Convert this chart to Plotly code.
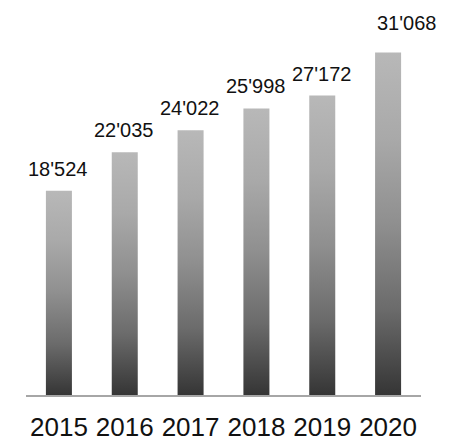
import plotly.graph_objects as go

years = ["2015", "2016", "2017", "2018", "2019", "2020"]
values = [18524, 22035, 24022, 25998, 27172, 31068]

BAR_W = 0.395
GRAD = [[0.0, "#353535"], [0.25, "#6b6b6b"], [0.5, "#8f8f8f"], [0.75, "#a9a9a9"], [1.0, "#b8b8b8"]]
FONT = "Liberation Sans, Arial, sans-serif"

fig = go.Figure()
for i, (yr, v) in enumerate(zip(years, values)):
    xs = [i - BAR_W / 2, i + BAR_W / 2, i + BAR_W / 2, i - BAR_W / 2, i - BAR_W / 2]
    ys = [0, 0, v, v, 0]
    fig.add_trace(go.Scatter(
        x=xs, y=ys, mode="lines", fill="toself", line=dict(width=0),
        fillgradient=dict(type="vertical", colorscale=GRAD),
        hoverinfo="skip", showlegend=False,
    ))

for i, v in enumerate(values):
    last = i == len(values) - 1
    fig.add_annotation(
        x=i, y=v, text=f"{v:,}".replace(",", "'"), showarrow=False,
        yanchor="middle", xanchor="center",
        xshift=18 if last else -1, yshift=30 if last else 22,
        font=dict(family=FONT, size=20, color="#111111"),
    )

fig.update_layout(
    width=450, height=444,
    margin=dict(l=26, r=29, t=10, b=49, autoexpand=False),
    paper_bgcolor="white", plot_bgcolor="white",
    xaxis=dict(
        range=[-0.5, len(years) - 0.5], tickmode="array",
        tickvals=list(range(len(years))), ticktext=years,
        showgrid=False, zeroline=False, showline=True,
        linecolor="#a6a6a6", linewidth=2, ticks="",
        tickfont=dict(family=FONT, size=26, color="#111111"),
        ticklabelstandoff=8, automargin=False,
    ),
    yaxis=dict(range=[0, 34930], visible=False, showgrid=False,
               zeroline=False, automargin=False),
)

fig.write_html(
    "out.html",
    config={"displayModeBar": False},
    post_script="document.body.style.margin='0';document.body.style.overflow='hidden';",
)
